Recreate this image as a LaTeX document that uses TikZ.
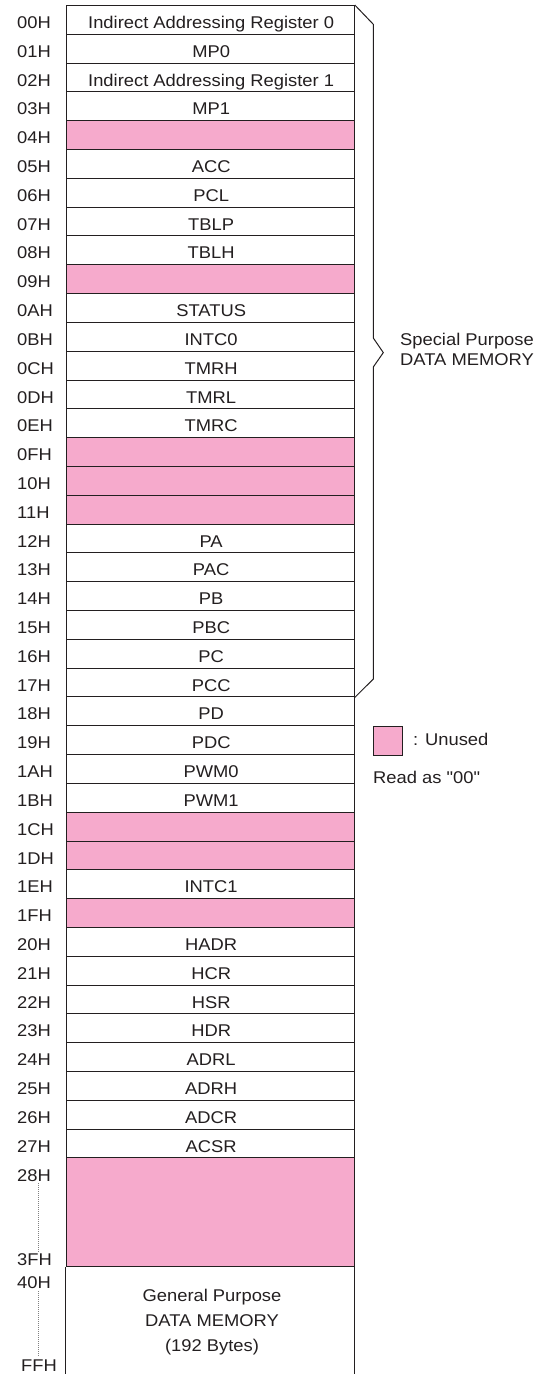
\documentclass[tikz,border=0pt]{standalone}
\usepackage{fontspec}
\newfontfamily\arialf{Liberation Sans}[FakeStretch=1.08]
\usetikzlibrary{calc}
\definecolor{unused}{RGB}{246,170,204}
\definecolor{ink}{RGB}{35,31,32}
\begin{document}
\begin{tikzpicture}[x=1pt,y=-1pt,
  font=\arialf\fontsize{17}{20}\selectfont,
  cell/.style={draw=ink, line width=1pt, fill=white, minimum width=288.3pt, minimum height=28.81pt, inner sep=0pt},
  freecell/.style={cell, fill=unused},
  usedcell/.style={cell},
  txt/.style={inner sep=0pt, anchor=base, text=ink},
  addr/.style={inner sep=0pt, anchor=base west, text=ink},
  line/.style={draw=ink, line width=1pt},
  dots/.style={draw=gray, line width=0.9pt, dash pattern=on 1pt off 1pt}]
\useasboundingbox (0,0) rectangle (547,1374);

\foreach \i/\lab/\txt/\sty in {
 0/00H/Indirect Addressing Register 0/usedcell,
 1/01H/MP0/usedcell,
 2/02H/Indirect Addressing Register 1/usedcell,
 3/03H/MP1/usedcell,
 4/04H/{}/freecell,
 5/05H/ACC/usedcell,
 6/06H/PCL/usedcell,
 7/07H/TBLP/usedcell,
 8/08H/TBLH/usedcell,
 9/09H/{}/freecell,
 10/0AH/STATUS/usedcell,
 11/0BH/INTC0/usedcell,
 12/0CH/TMRH/usedcell,
 13/0DH/TMRL/usedcell,
 14/0EH/TMRC/usedcell,
 15/0FH/{}/freecell,
 16/10H/{}/freecell,
 17/11H/{}/freecell,
 18/12H/PA/usedcell,
 19/13H/PAC/usedcell,
 20/14H/PB/usedcell,
 21/15H/PBC/usedcell,
 22/16H/PC/usedcell,
 23/17H/PCC/usedcell,
 24/18H/PD/usedcell,
 25/19H/PDC/usedcell,
 26/1AH/PWM0/usedcell,
 27/1BH/PWM1/usedcell,
 28/1CH/{}/freecell,
 29/1DH/{}/freecell,
 30/1EH/INTC1/usedcell,
 31/1FH/{}/freecell,
 32/20H/HADR/usedcell,
 33/21H/HCR/usedcell,
 34/22H/HSR/usedcell,
 35/23H/HDR/usedcell,
 36/24H/ADRL/usedcell,
 37/25H/ADRH/usedcell,
 38/26H/ADCR/usedcell,
 39/27H/ACSR/usedcell}{
  \pgfmathsetmacro\yc{5.5+\i*28.81+14.405}
  \node[\sty] (r\i) at (210.15,\yc) {};
  \node[txt] (t\i) at ($(r\i.center)+(1,8.6)$) {\txt};
  \node[addr] (a\i) at (17,\yc+8.6) {\lab};
}

% unused block 28H-3FH
\node[freecell, minimum height=109pt] (rfree) at (210.15,1212.45) {};
\node[addr] (a28) at (17,1181) {28H};
\node[addr] (a3F) at (17,1265) {3FH};
\draw[dots] ($(a28.south)+(4,2)$) -- ($(a28.south |- a3F.north)+(4,0)$);

% general purpose area
\node[inner sep=0pt, minimum width=288.3pt, minimum height=107pt] (gp) at (210.15,1320.5) {};
\draw[line] (gp.north west) -- (gp.south west);
\draw[line] (gp.north east) -- (gp.south east);
\node[txt] (gp1) at (212,1301) {General Purpose};
\node[txt] (gp2) at (212,1326) {DATA MEMORY};
\node[txt] (gp3) at (212,1351) {(192 Bytes)};
\node[addr] (a40) at (17,1288) {40H};
\node[addr] (aFF) at (21,1371) {FFH};
\draw[dots] ($(a40.south)+(4,3)$) -- ($(a40.south |- aFF.north)+(4,-2)$);

% brace for special purpose area
\coordinate (b1) at (373.3,24.3);
\coordinate (b2) at (373.3,338);
\coordinate (notch) at (383.3,352.6);
\coordinate (b3) at (373.3,367);
\coordinate (b4) at (373.3,679);
\draw[line, line join=miter] (r0.north east) -- (b1) -- (b2) -- (notch) -- (b3) -- (b4) -- (r23.south east);
\node[txt] (sp1) at (467,345) {Special Purpose};
\node[txt] (sp2) at (467,365) {DATA MEMORY};

% legend
\node[freecell, minimum width=29pt, minimum height=29pt] (leg) at (388,740.5) {};
\node[addr] (legt) at (413,745) {: Unused};
\node[addr] (read) at (373,783) {Read as "00"};
\end{tikzpicture}
\end{document}
